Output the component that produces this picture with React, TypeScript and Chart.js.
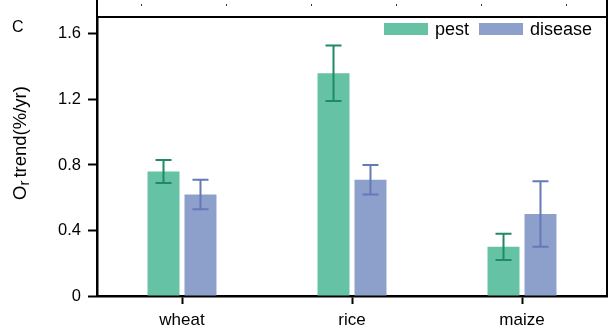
import React, { useEffect, useRef } from "react";
import { Chart, registerables } from "chart.js";

Chart.register(...registerables);

const categories = ["wheat", "rice", "maize"];
const pestValues = [0.76, 1.36, 0.30];
const pestErrors = [0.07, 0.17, 0.08];
const diseaseValues = [0.62, 0.71, 0.50];
const diseaseErrors = [0.09, 0.09, 0.2];
const yTicks = [0, 0.4, 0.8, 1.2, 1.6];
const seriesLabels = ["pest", "disease"];
const panelLabel = "C";

const FONT = "'Liberation Sans', Arial, sans-serif";

const decorPlugin = {
  id: "decor",
  afterDatasetsDraw(chart: any) {
    const ctx = chart.ctx;
    const y = chart.scales.y;
    const ca = chart.chartArea;
    const errs = [pestErrors, diseaseErrors];
    const errColors = ["#1f8a63", "#6579b8"];
    ctx.save();
    chart.data.datasets.forEach((ds: any, di: number) => {
      const meta = chart.getDatasetMeta(di);
      meta.data.forEach((bar: any, i: number) => {
        const v = ds.data[i];
        const e = errs[di][i];
        const yt = y.getPixelForValue(v + e);
        const yb = y.getPixelForValue(v - e);
        const x = bar.x;
        ctx.strokeStyle = errColors[di];
        ctx.lineWidth = 2;
        ctx.beginPath();
        ctx.moveTo(x, yt);
        ctx.lineTo(x, yb);
        ctx.moveTo(x - 8, yt);
        ctx.lineTo(x + 8, yt);
        ctx.moveTo(x - 8, yb);
        ctx.lineTo(x + 8, yb);
        ctx.stroke();
      });
    });
    // box top and right
    ctx.strokeStyle = "#000";
    ctx.lineWidth = 2;
    ctx.beginPath();
    ctx.moveTo(ca.left, ca.top);
    ctx.lineTo(ca.right, ca.top);
    ctx.moveTo(ca.right, 0);
    ctx.lineTo(ca.right, ca.bottom);
    ctx.moveTo(ca.left, 0);
    ctx.lineTo(ca.left, ca.top);
    ctx.stroke();
    // tiny stubs from upper panel
    ctx.fillStyle = "#333";
    for (let k = 0; k < 6; k++) {
      ctx.fillRect(141 + k * 85, 4, 1, 2);
    }
    // legend
    ctx.font = `18px ${FONT}`;
    ctx.textBaseline = "alphabetic";
    ctx.textAlign = "left";
    let lx = 384;
    chart.data.datasets.forEach((ds: any) => {
      ctx.fillStyle = ds.backgroundColor;
      ctx.fillRect(lx, 23, 44, 12);
      ctx.fillStyle = "#000";
      ctx.fillText(ds.label, lx + 51, 35);
      lx += 51 + ctx.measureText(ds.label).width + 10;
    });
    // panel label
    ctx.font = `16px ${FONT}`;
    ctx.fillText(panelLabel, 12, 32);
    // y title with subscript
    ctx.translate(20, 143);
    ctx.rotate(-Math.PI / 2);
    const big = `18.5px ${FONT}`;
    const small = `15px ${FONT}`;
    ctx.font = big;
    const wO = ctx.measureText("O").width;
    const rest = "trend(%/yr)";
    const wRest = ctx.measureText(rest).width;
    ctx.font = small;
    const wr = ctx.measureText("r").width;
    const gap = 3;
    const total = wO + wr + gap + wRest;
    let tx = -total / 2;
    ctx.font = big;
    ctx.fillText("O", tx, 6);
    tx += wO;
    ctx.font = small;
    ctx.fillText("r", tx, 9);
    tx += wr + gap;
    ctx.font = big;
    ctx.fillText(rest, tx, 6);
    ctx.restore();
  },
};

export default function App() {
  const ref = useRef<HTMLCanvasElement>(null);
  useEffect(() => {
    document.body.style.margin = "0";
    const chart = new Chart(ref.current!, {
      type: "bar",
      data: {
        labels: categories,
        datasets: [
          {
            label: seriesLabels[0],
            data: pestValues,
            backgroundColor: "#66c2a5",
            categoryPercentage: 0.435,
            barPercentage: 0.865,
          },
          {
            label: seriesLabels[1],
            data: diseaseValues,
            backgroundColor: "#8da0cb",
            categoryPercentage: 0.435,
            barPercentage: 0.865,
          },
        ],
      },
      options: {
        responsive: false,
        animation: false,
        layout: { padding: { top: 8, right: 3, left: 0, bottom: 0 } },
        plugins: { legend: { display: false }, tooltip: { enabled: false } },
        scales: {
          x: {
            grid: {
              display: true,
              drawOnChartArea: false,
              drawTicks: true,
              tickLength: 8,
              tickColor: "#000",
              tickWidth: 2,
              offset: false,
            },
            border: { display: true, color: "#000", width: 2.5 },
            ticks: { color: "#000", font: { family: FONT, size: 17 }, padding: 6 },
            afterFit: (s: any) => {
              s.height = 33;
            },
          },
          y: {
            min: 0,
            max: 1.704,
            afterBuildTicks: (s: any) => {
              s.ticks = yTicks.map((v) => ({ value: v }));
            },
            grid: {
              display: true,
              drawOnChartArea: false,
              drawTicks: true,
              tickLength: 9,
              tickColor: "#000",
              tickWidth: 2,
            },
            border: { display: true, color: "#000", width: 2.5 },
            ticks: {
              color: "#000",
              font: { family: FONT, size: 16.5 },
              padding: 7,
              callback: (v: any) => String(Number(v)),
            },
            afterFit: (s: any) => {
              s.width = 97;
            },
          },
        },
      },
      plugins: [decorPlugin],
    });
    return () => chart.destroy();
  }, []);
  return <canvas ref={ref} width={610} height={329} style={{ display: "block" }} />;
}
